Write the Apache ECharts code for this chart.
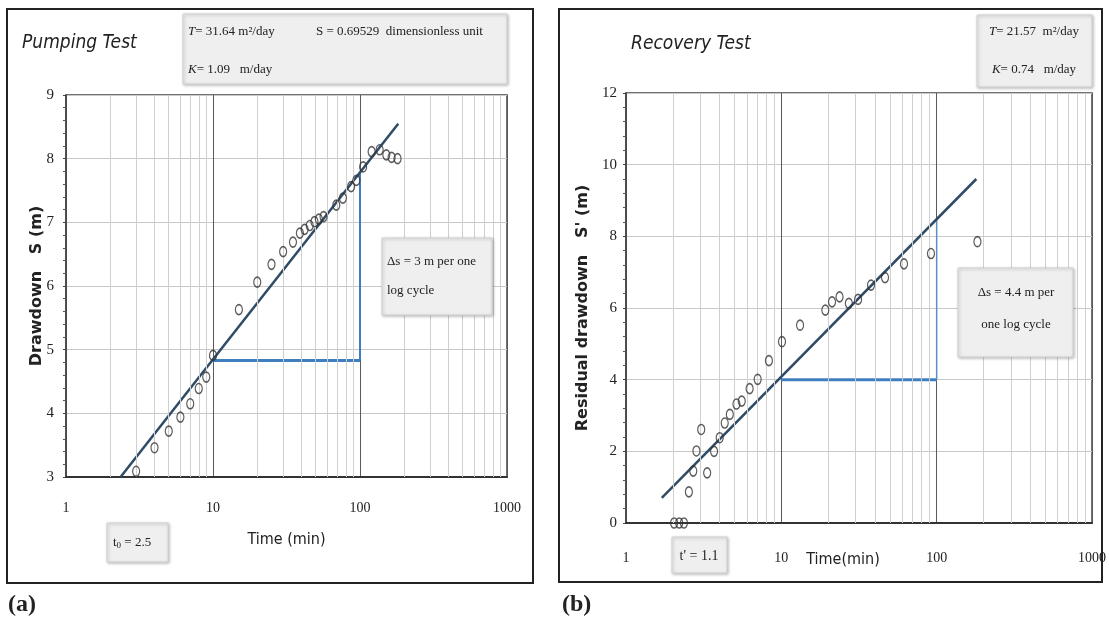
<!DOCTYPE html>
<html><head><meta charset="utf-8">
<script src="https://cdn.jsdelivr.net/npm/echarts@6/dist/echarts.min.js"></script>
<style>html,body{margin:0;padding:0;background:#fff}#c{width:1109px;height:623px}</style>
</head><body><div id="c"></div>
<script>
// ---------- data ----------
const xTickLabels = ['1', '10', '100', '1000'];
const minorTimes = [2,3,4,5,6,7,8,9,20,30,40,50,60,70,80,90,200,300,400,500,600,700,800,900];

// (a) Pumping test
const pumpTime = [3,4,5,6,7,8,9,10,15,20,25,30,35,39,42,45.5,49,52.5,56.5,69,76.5,87,94.5,105,120,136,151,164,180];
const pumpDrawdown = [3.09,3.46,3.72,3.94,4.15,4.39,4.57,4.91,5.63,6.06,6.34,6.54,6.69,6.83,6.89,6.95,7.01,7.05,7.09,7.27,7.38,7.56,7.66,7.87,8.11,8.14,8.06,8.02,8.00];
const pumpFitTime = [2.35, 182];
const pumpFitS = [3.0, 8.55];
const pumpCycleTime = [10, 100, 100];
const pumpCycleS = [4.83, 4.83, 7.8];
const pumpYTicks = [3, 9, 1];

// (b) Recovery test
const recTime = [2.04,2.2,2.36,2.54,2.71,2.84,3.05,3.33,3.69,4.01,4.32,4.66,5.14,5.56,6.25,7.04,8.32,10.1,13.2,19.2,21.2,23.7,27.2,31.2,37.8,46.5,61.6,91.9,183];
const recDrawdown = [0,0,0,0.87,1.45,2.01,2.61,1.40,2.0,2.38,2.79,3.03,3.32,3.40,3.75,4.01,4.53,5.06,5.52,5.94,6.17,6.31,6.13,6.24,6.64,6.85,7.23,7.52,7.85];
const recFitTime = [1.7, 180];
const recFitS = [0.7, 9.6];
const recCycleTime = [10, 100, 100];
const recCycleS = [4.0, 4.0, 8.45];
const recYTicks = [0, 12, 2];

// ---------- styling ----------
const NARROW = "'Liberation Sans Narrow','DejaVu Sans Condensed','Open Sans',sans-serif";
const SERIF = "'Liberation Serif','DejaVu Serif',serif";
const zip = (a, b) => a.map((v, i) => [v, b[i]]);

function xAxisCfg(gi, margin, name, nameGap, pad) {
  return {
    type: 'log', logBase: 10, min: 1, max: 1000, gridIndex: gi,
    axisLine: { show: true, onZero: false, lineStyle: { color: '#333', width: 2 } },
    axisTick: { show: false },
    axisLabel: { margin: margin, fontFamily: SERIF, fontSize: 14, color: '#222',
      formatter: v => xTickLabels[Math.round(Math.log10(v))] },
    splitLine: { show: true, lineStyle: { color: '#5a5a5a', width: 1 } },
    name: name, nameLocation: 'middle', nameGap: nameGap, nameMoveOverlap: false,
    nameTextStyle: { fontFamily: NARROW, fontSize: 16, color: '#222', padding: pad }
  };
}
function yAxisCfg(gi, t, name, nameGap, margin) {
  return {
    type: 'value', min: t[0], max: t[1], interval: t[2], gridIndex: gi,
    axisLine: { show: true, lineStyle: { color: '#444', width: 1.5 } },
    axisTick: { show: true, length: 3, lineStyle: { color: '#444' } },
    minorTick: { show: true, splitNumber: 5, length: 3, lineStyle: { color: '#555' } },
    axisLabel: { margin: margin, fontFamily: SERIF, fontSize: 15, color: '#222' },
    splitLine: { show: true, lineStyle: { color: '#c8c8c8', width: 1 } },
    name: name, nameLocation: 'middle', nameGap: nameGap, nameMoveOverlap: false,
    nameTextStyle: { fontFamily: "'DejaVu Sans',sans-serif", fontWeight: 'bold', fontSize: 16, color: '#222' }
  };
}
function minorSeries(gi) {
  return {
    type: 'line', xAxisIndex: gi, yAxisIndex: gi, data: [], silent: true, z: 1,
    markLine: { silent: true, symbol: ['none', 'none'], label: { show: false },
      lineStyle: { color: '#cfcfcf', width: 1, type: 'solid' },
      data: minorTimes.map(t => ({ xAxis: t })) }
  };
}
function scatterSeries(gi, x, y) {
  return { type: 'scatter', xAxisIndex: gi, yAxisIndex: gi, data: zip(x, y), z: 5,
    symbol: 'circle', symbolSize: [7, 10],
    itemStyle: { color: 'rgba(255,255,255,0)', borderColor: '#333', borderWidth: 1.4 } };
}
function lineSeries(gi, x, y, color, width, z) {
  return { type: 'line', xAxisIndex: gi, yAxisIndex: gi, data: zip(x, y), z: z,
    symbol: 'none', silent: true, lineStyle: { color: color, width: width } };
}

function box(x, y, w, h) {
  return { type: 'rect', shape: { x: x, y: y, width: w, height: h },
    style: { fill: '#efefef', stroke: '#d2d2d2', lineWidth: 1,
      shadowBlur: 3, shadowColor: 'rgba(0,0,0,0.25)', shadowOffsetX: 1, shadowOffsetY: 1 }, z: 10 };
}
function txt(x, y, text, opt) {
  return { type: 'text', x: x, y: y, z: 11,
    style: Object.assign({ text: text, fill: '#222', font: '14px ' + SERIF,
      verticalAlign: 'middle', align: 'left' }, opt || {}) };
}
const RICH = { i: { font: 'italic 13px ' + SERIF, fill: '#222' }, n: { font: '13px ' + SERIF, fill: '#222' } };

const chart = echarts.init(document.getElementById('c'), null, { renderer: 'canvas' });
chart.setOption({
  backgroundColor: '#fff',
  animation: false,
  grid: [
    { left: 66, top: 95, width: 441, height: 382, show: true, borderColor: '#444', borderWidth: 1.5 },
    { left: 626, top: 93, width: 467, height: 430, show: true, borderColor: '#444', borderWidth: 1.5 }
  ],
  xAxis: [
    xAxisCfg(0, 24, 'Time (min)', 55, [0, 0, 0, 0]),
    xAxisCfg(1, 28, 'Time(min)', 29, [0, 32, 0, 0])
  ],
  yAxis: [
    yAxisCfg(0, pumpYTicks, 'Drawdown   S (m)', 21, 12),
    yAxisCfg(1, recYTicks, "Residual drawdown   S' (m)", 35, 9)
  ],
  series: [
    minorSeries(0),
    minorSeries(1),
    lineSeries(0, pumpCycleTime.slice(0, 2), pumpCycleS.slice(0, 2), '#3f7fc0', 3, 3),
    lineSeries(0, pumpCycleTime.slice(1), pumpCycleS.slice(1), '#3f7fc0', 2, 3),
    lineSeries(1, recCycleTime.slice(0, 2), recCycleS.slice(0, 2), '#3f7fc0', 3, 3),
    lineSeries(1, recCycleTime.slice(1), recCycleS.slice(1), '#5b8fc6', 1.5, 3),
    lineSeries(0, pumpFitTime, pumpFitS, '#2f4b66', 2.5, 4),
    lineSeries(1, recFitTime, recFitS, '#2f4b66', 2.5, 4),
    scatterSeries(0, pumpTime, pumpDrawdown),
    scatterSeries(1, recTime, recDrawdown)
  ],
  graphic: [
    { type: 'rect', shape: { x: 7, y: 9, width: 526, height: 574 }, style: { fill: 'none', stroke: '#222', lineWidth: 2 }, z: 12 },
    { type: 'rect', shape: { x: 559, y: 9, width: 543, height: 573 }, style: { fill: 'none', stroke: '#222', lineWidth: 2 }, z: 12 },
    txt(22, 43, 'Pumping Test', { font: 'italic 19px ' + NARROW }),
    txt(631, 44, 'Recovery Test', { font: 'italic 19px ' + NARROW }),
    box(183, 14, 324, 70),
    { type: 'text', x: 188, y: 32, z: 11, style: { rich: RICH, text: '{i|T}{n|= 31.64 m²/day}', verticalAlign: 'middle' } },
    txt(316, 32, 'S = 0.69529  dimensionless unit', { font: '13px ' + SERIF }),
    { type: 'text', x: 188, y: 70, z: 11, style: { rich: RICH, text: '{i|K}{n|= 1.09   m/day}', verticalAlign: 'middle' } },
    box(977, 15, 115, 72),
    { type: 'text', x: 1034, y: 32, z: 11, style: { rich: RICH, text: '{i|T}{n|= 21.57  m²/day}', verticalAlign: 'middle', align: 'center' } },
    { type: 'text', x: 1034, y: 70, z: 11, style: { rich: RICH, text: '{i|K}{n|= 0.74   m/day}', verticalAlign: 'middle', align: 'center' } },
    box(382, 238, 110, 77),
    txt(387, 262, 'Δs = 3 m per one', { font: '13px ' + SERIF }),
    txt(387, 291, 'log cycle', { font: '13px ' + SERIF }),
    box(958, 268, 115, 89),
    txt(1016, 293, 'Δs = 4.4 m per', { font: '13px ' + SERIF, align: 'center' }),
    txt(1016, 325, 'one log cycle', { font: '13px ' + SERIF, align: 'center' }),
    box(107, 523, 61, 39),
    { type: 'text', x: 113, y: 543, z: 11, style: { rich: { n: { font: '13px ' + SERIF, fill: '#222' }, s: { font: '9px ' + SERIF, fill: '#222', verticalAlign: 'bottom', padding: [6, 0, 0, 0] } },
      text: '{n|t}{s|0}{n| = 2.5}', verticalAlign: 'middle' } },
    box(672, 537, 55, 36),
    txt(699, 556, "t' = 1.1", { font: '14px ' + SERIF, align: 'center' }),
    txt(8, 605, '(a)', { font: 'bold 24px ' + SERIF }),
    txt(562, 605, '(b)', { font: 'bold 24px ' + SERIF })
  ]
});
</script></body></html>
